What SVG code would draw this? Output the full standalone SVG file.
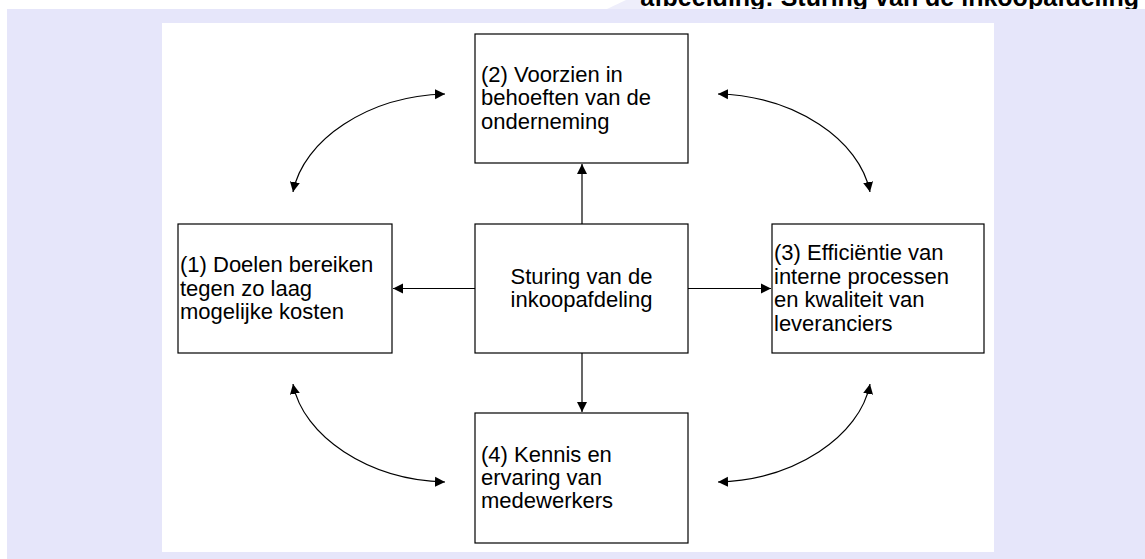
<svg xmlns="http://www.w3.org/2000/svg" width="1145" height="559" viewBox="0 0 1145 559">
<style>
.box{fill:#fff;stroke:#000;stroke-width:1.2}
.t{font-family:"Liberation Sans",Arial,sans-serif;font-size:22px;fill:#000}
.title{font-family:"Liberation Sans",Arial,sans-serif;font-size:25px;font-weight:bold;fill:#000}
.c{fill:none;stroke:#000;stroke-width:1.2}
</style>
<defs>
<marker id="ah" viewBox="0 0 10 10" markerUnits="userSpaceOnUse" markerWidth="10" markerHeight="12" refX="10" refY="5" orient="auto-start-reverse">
<path d="M0,0 L10,5 L0,10 z" fill="#000"/>
</marker>
</defs>
<rect x="0" y="0" width="1145" height="559" fill="#fff"/>
<polygon points="607,9 626,0 645,0 645,9" fill="#EEEEFB"/>
<text class="title" x="1139" y="5.5" text-anchor="end">afbeelding: Sturing van de inkoopafdeling</text>
<rect x="7" y="9" width="1138" height="550" fill="#E6E6FA"/>
<rect x="162" y="23" width="832" height="529" fill="#fff"/>

<g id="connectors">
<line class="c" x1="582" y1="224" x2="582" y2="164" marker-end="url(#ah)"/>
<line class="c" x1="582" y1="353" x2="582" y2="412" marker-end="url(#ah)"/>
<line class="c" x1="475" y1="288.5" x2="393" y2="288.5" marker-end="url(#ah)"/>
<line class="c" x1="688" y1="288.5" x2="771" y2="288.5" marker-end="url(#ah)"/>
<path class="c" d="M293,192 C303,140 368,96 445,94" marker-start="url(#ah)" marker-end="url(#ah)"/>
<path class="c" d="M870,192 C860,140 795,96 718,94" marker-start="url(#ah)" marker-end="url(#ah)"/>
<path class="c" d="M293,384 C303,436 368,480 445,482" marker-start="url(#ah)" marker-end="url(#ah)"/>
<path class="c" d="M870,384 C860,436 795,480 718,482" marker-start="url(#ah)" marker-end="url(#ah)"/>
</g>

<g id="node-center">
<rect class="box" x="475" y="224" width="213" height="129"/>
<text class="t" x="581.5" y="284" text-anchor="middle">Sturing van de</text>
<text class="t" x="581.5" y="307.4" text-anchor="middle">inkoopafdeling</text>
</g>
<g id="node-2">
<rect class="box" x="475" y="34" width="213" height="129"/>
<text class="t" x="481" y="82">(2) Voorzien in</text>
<text class="t" x="481" y="105.4">behoeften van de</text>
<text class="t" x="481" y="128.8">onderneming</text>
</g>
<g id="node-1">
<rect class="box" x="178" y="224" width="214" height="129"/>
<text class="t" x="180" y="272.1">(1) Doelen bereiken</text>
<text class="t" x="180" y="295.5">tegen zo laag</text>
<text class="t" x="180" y="318.9">mogelijke kosten</text>
</g>
<g id="node-3">
<rect class="box" x="772" y="224" width="212" height="129"/>
<text class="t" x="774" y="260.4">(3) Efficiëntie van</text>
<text class="t" x="774" y="283.8">interne processen</text>
<text class="t" x="774" y="307.2">en kwaliteit van</text>
<text class="t" x="774" y="330.6">leveranciers</text>
</g>
<g id="node-4">
<rect class="box" x="475" y="413" width="213" height="130"/>
<text class="t" x="481" y="461.5">(4) Kennis en</text>
<text class="t" x="481" y="484.9">ervaring van</text>
<text class="t" x="481" y="508.3">medewerkers</text>
</g>
</svg>
